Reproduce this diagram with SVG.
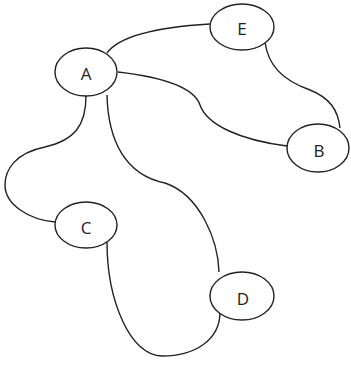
<svg xmlns="http://www.w3.org/2000/svg" width="351" height="368" viewBox="0 0 351 368">
<style>
.node ellipse{fill:#fff;stroke:#222;stroke-width:1.4}
.node text{font-family:"Open Sans","Liberation Sans",sans-serif;font-size:17px;fill:#222;text-anchor:middle;dominant-baseline:central}
.edges path{fill:none;stroke:#222;stroke-width:1.4}
</style>
<rect width="351" height="368" fill="#fff"/>
<g id="edges" class="edges">
<path d="M107,53 C120,35 160,27 210,24"/>
<path d="M118,72 C170,78 195,90 200,105 C207,125 240,140 287,146"/>
<path d="M265,42 C268,65 282,80 310,90 C330,98 338,110 340,128"/>
<path d="M86,96 C86,125 75,140 45,147 C15,153 5,170 5,185 C5,205 30,220 55,222"/>
<path d="M107,95 C108,140 125,175 165,183 C200,195 218,240 219,272"/>
<path d="M107,242 C107,300 130,356 162,356 C195,356 220,340 220,312"/>
</g>
<g id="A" class="node"><ellipse cx="86" cy="72" rx="31" ry="24"/><text x="86" y="73">A</text></g>
<g id="E" class="node"><ellipse cx="242" cy="27" rx="32" ry="23"/><text x="242" y="28">E</text></g>
<g id="B" class="node"><ellipse cx="318" cy="148" rx="31" ry="24"/><text x="319" y="150">B</text></g>
<g id="C" class="node"><ellipse cx="86" cy="225" rx="31" ry="23"/><text x="86" y="227">C</text></g>
<g id="D" class="node"><ellipse cx="242" cy="296" rx="32" ry="24"/><text x="243" y="298">D</text></g>
</svg>
